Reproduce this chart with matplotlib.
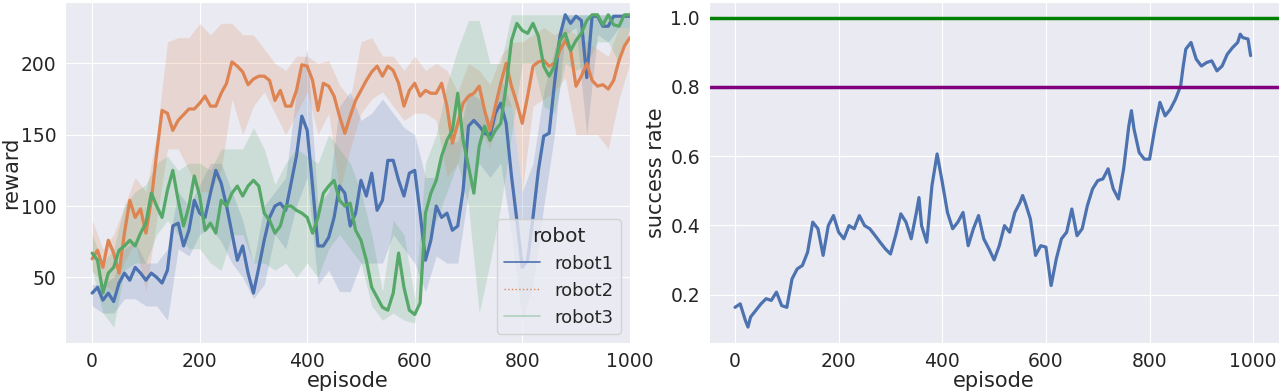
import numpy as np
import seaborn as sns
from matplotlib import pyplot as plt
from matplotlib.lines import Line2D

# episodes sampled every 10 for the reward lines
episodes = np.arange(0, 1001, 10)

robot1 = [39, 43, 34, 39, 33, 46, 53, 48, 57, 53, 48, 53, 50, 46, 55, 86, 88, 72, 83, 104,
          95, 92, 109, 125, 116, 100, 81, 62, 72, 53, 39, 57, 76, 92, 100, 102, 97, 116, 135, 163,
          153, 114, 72, 72, 78, 92, 114, 109, 86, 95, 118, 107, 123, 97, 104, 132, 132, 118, 107, 123,
          125, 95, 62, 76, 100, 92, 95, 83, 86, 111, 156, 160, 156, 151, 149, 165, 172, 158, 121, 90,
          57, 62, 92, 125, 149, 151, 186, 219, 234, 228, 233, 230, 190, 233, 233, 226, 226, 233, 233, 233,
          233]
robot2 = [63, 69, 57, 76, 67, 53, 81, 104, 92, 98, 81, 104, 137, 167, 165, 153, 160, 164, 168, 168,
          172, 177, 170, 170, 179, 186, 201, 198, 194, 185, 189, 191, 191, 188, 174, 181, 170, 170, 181, 199,
          198, 188, 167, 186, 184, 177, 163, 151, 163, 174, 181, 188, 194, 198, 191, 198, 195, 186, 170, 181,
          186, 177, 181, 179, 179, 186, 170, 144, 158, 172, 177, 179, 184, 167, 153, 170, 186, 200, 184, 172,
          158, 177, 198, 201, 202, 198, 200, 209, 216, 209, 184, 191, 200, 188, 184, 185, 182, 188, 202, 212,
          218]
robot3 = [67, 62, 39, 53, 57, 69, 72, 76, 72, 81, 88, 109, 100, 92, 111, 125, 104, 86, 100, 121,
          107, 83, 88, 81, 104, 100, 109, 114, 107, 114, 118, 114, 95, 90, 81, 86, 100, 100, 97, 95,
          92, 81, 92, 109, 114, 118, 104, 100, 102, 83, 76, 62, 43, 36, 29, 27, 39, 67, 43, 27,
          24, 32, 95, 109, 118, 135, 146, 153, 179, 146, 128, 109, 142, 156, 146, 153, 158, 184, 216, 228,
          223, 221, 228, 219, 198, 191, 198, 216, 221, 209, 216, 221, 230, 234, 234, 227, 234, 227, 226, 234,
          234]

# spread bands sampled every 20 episodes
band_episodes = np.arange(0, 1001, 20)
robot1_low = [30, 25, 25, 35, 35, 30, 30, 20, 70, 65, 80, 85, 75, 60, 50, 35, 45, 80, 70, 100,
              120, 45, 55, 40, 40, 60, 60, 60, 80, 70, 60, 40, 65, 60, 60, 110, 130, 120, 130, 80,
              20, 45, 100, 150, 220, 225, 150, 220, 215, 225, 225]
robot1_high = [45, 45, 50, 70, 75, 60, 60, 70, 110, 100, 115, 130, 130, 110, 90, 60, 100, 110, 120, 180,
               210, 100, 110, 170, 180, 160, 165, 175, 165, 155, 150, 120, 120, 145, 145, 180, 175, 160, 190, 170,
               110, 130, 180, 210, 234, 234, 234, 234, 234, 234, 234]
robot2_low = [55, 45, 40, 60, 75, 40, 90, 140, 140, 125, 110, 110, 125, 175, 150, 170, 180, 165, 150, 165,
              180, 150, 165, 110, 140, 165, 175, 180, 170, 160, 165, 165, 160, 120, 130, 160, 155, 140, 170, 170,
              110, 170, 175, 180, 190, 150, 150, 150, 140, 175, 200]
robot2_high = [90, 70, 80, 100, 120, 110, 150, 215, 218, 218, 228, 220, 228, 228, 220, 220, 210, 200, 195, 205,
               205, 200, 202, 185, 175, 215, 218, 205, 205, 195, 205, 195, 200, 195, 180, 200, 195, 185, 205, 215,
               215, 220, 225, 220, 225, 220, 215, 210, 205, 225, 225]
robot3_low = [55, 25, 15, 55, 60, 60, 80, 90, 80, 70, 70, 60, 55, 80, 80, 60, 60, 55, 60, 50,
              60, 50, 70, 80, 70, 60, 30, 20, 25, 20, 18, 70, 90, 110, 130, 100, 25, 60, 100, 150,
              200, 200, 170, 165, 200, 195, 200, 215, 215, 200, 225]
robot3_high = [80, 60, 70, 100, 110, 115, 130, 135, 125, 130, 130, 125, 140, 140, 140, 155, 140, 115, 130, 140,
               135, 130, 150, 140, 130, 110, 80, 40, 90, 80, 35, 130, 150, 185, 210, 230, 230, 200, 200, 234,
               234, 234, 234, 234, 234, 234, 234, 234, 234, 234, 234]

success_episodes = [0, 10, 20, 25, 30, 40, 50, 60, 70, 80, 90, 100, 110, 120, 130, 140, 150, 160, 170, 180,
                    190, 200, 210, 220, 230, 240, 250, 260, 270, 280, 290, 300, 310, 320, 330, 340, 350, 355, 360, 370,
                    380, 390, 400, 410, 420, 430, 440, 450, 460, 470, 480, 490, 500, 510, 520, 530, 540, 550, 555, 560,
                    570, 580, 590, 600, 610, 620, 630, 640, 650, 660, 670, 680, 690, 700, 710, 720, 730, 740, 750, 760,
                    765, 770, 780, 790, 800, 810, 820, 830, 840, 850, 860, 865, 870, 880, 890, 900, 910, 920, 930, 940,
                    950, 960, 970, 975, 980, 990, 995]
success_rate = [0.163, 0.173, 0.125, 0.106, 0.135, 0.154, 0.173, 0.188, 0.183, 0.207, 0.168, 0.163, 0.245, 0.274,
                0.284, 0.322, 0.409, 0.39, 0.313, 0.399, 0.428, 0.38, 0.361, 0.399, 0.39, 0.428, 0.399, 0.39,
                0.371, 0.351, 0.332, 0.317, 0.371, 0.433, 0.409, 0.361, 0.437, 0.48, 0.399, 0.351, 0.514, 0.606,
                0.524, 0.437, 0.39, 0.409, 0.437, 0.341, 0.39, 0.428, 0.361, 0.332, 0.30, 0.341, 0.399, 0.38,
                0.437, 0.466, 0.486, 0.466, 0.418, 0.313, 0.341, 0.337, 0.226, 0.303, 0.361, 0.38, 0.447, 0.37,
                0.39, 0.457, 0.505, 0.529, 0.534, 0.563, 0.505, 0.476, 0.563, 0.687, 0.731, 0.678, 0.61, 0.591,
                0.591, 0.678, 0.755, 0.716, 0.735, 0.764, 0.803, 0.86, 0.909, 0.928, 0.88, 0.86, 0.87, 0.875,
                0.846, 0.86, 0.894, 0.913, 0.928, 0.952, 0.942, 0.938, 0.89]
thresholds = [1.0, 0.8]

sns.set_style('darkgrid')
plt.rcParams['font.family'] = ['DejaVu Sans']
pal = sns.color_palette('deep')

fig = plt.figure(figsize=(12.8, 3.92), dpi=100)
ax1 = fig.add_axes([0.051, 0.125, 0.441, 0.87])
ax2 = fig.add_axes([0.554, 0.125, 0.4453, 0.87])

series = [
    ('robot1', robot1, robot1_low, robot1_high, pal[0]),
    ('robot2', robot2, robot2_low, robot2_high, pal[1]),
    ('robot3', robot3, robot3_low, robot3_high, pal[2]),
]
for name, vals, lo, hi, c in series:
    ax1.fill_between(band_episodes, lo, hi, color=c, alpha=0.2, linewidth=0)
for name, vals, lo, hi, c in series:
    ax1.plot(episodes, vals, color=c, lw=2.3)

ax1.set_xlim(-50, 1000)
ax1.set_ylim(4, 243)
ax1.set_xticks([0, 200, 400, 600, 800, 1000])
ax1.set_yticks([50, 100, 150, 200])
ax1.set_xlabel('episode', fontsize=15, labelpad=0)
ax1.set_ylabel('reward', fontsize=15, labelpad=0)
ax1.tick_params(labelsize=13.5, pad=3)

handles = [
    Line2D([], [], color=pal[0], lw=1.2),
    Line2D([], [], color=pal[1], lw=1.0, ls=':'),
    Line2D([], [], color=pal[2], lw=1.2, alpha=0.4),
]
ax1.legend(handles, ['robot1', 'robot2', 'robot3'], title='robot', loc='lower right',
           fontsize=13, title_fontsize=14.5)

ax2.plot(success_episodes, success_rate, color=pal[0], lw=2.3)
ax2.axhline(thresholds[0], color='green', lw=2.5)
ax2.axhline(thresholds[1], color='purple', lw=2.5)
ax2.set_xlim(-50, 1050)
ax2.set_ylim(0.06, 1.045)
ax2.set_xticks([0, 200, 400, 600, 800, 1000])
ax2.set_yticks([0.2, 0.4, 0.6, 0.8, 1.0])
ax2.set_xlabel('episode', fontsize=15, labelpad=0)
ax2.set_ylabel('success rate', fontsize=15, labelpad=3)
ax2.tick_params(labelsize=13.5, pad=3)

plt.savefig('out.png', dpi=100)
